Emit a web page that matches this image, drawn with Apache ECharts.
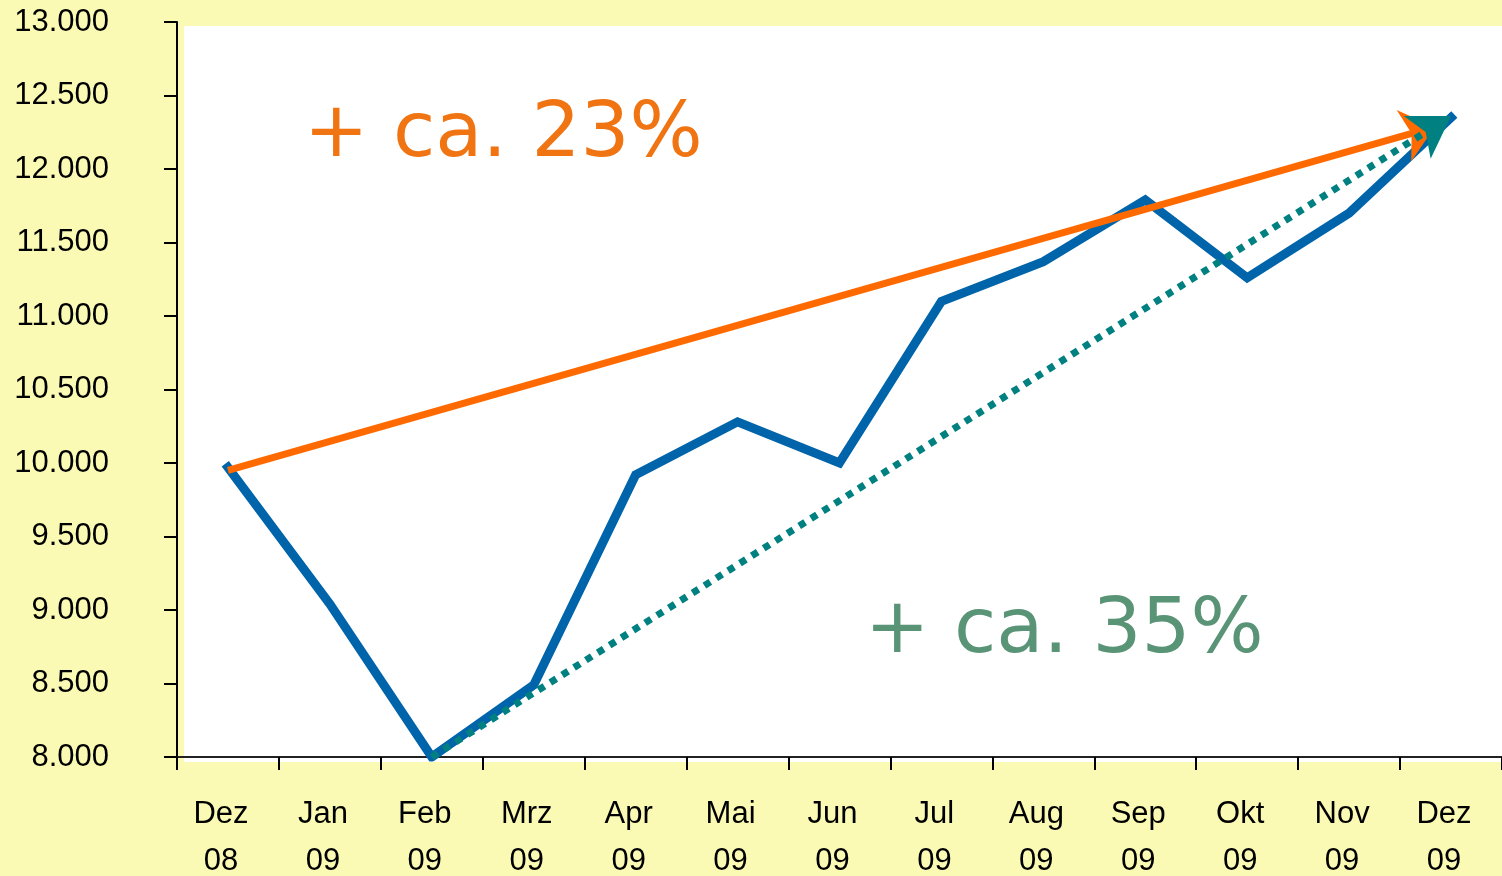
<!DOCTYPE html>
<html>
<head>
<meta charset="utf-8">
<script src="https://cdn.jsdelivr.net/npm/echarts@6/dist/echarts.min.js"></script>
<style>
  html, body { margin: 0; padding: 0; background: #fafab4; }
  #chart { width: 1502px; height: 876px; }
</style>
</head>
<body>
<div id="chart"></div>
<script>
// Monatswerte Dez 08 - Dez 09
var months = ['Dez\n08', 'Jan\n09', 'Feb\n09', 'Mrz\n09', 'Apr\n09', 'Mai\n09', 'Jun\n09',
  'Jul\n09', 'Aug\n09', 'Sep\n09', 'Okt\n09', 'Nov\n09', 'Dez\n09']
var values = [9970, 9040, 8000, 8490, 9920, 10280, 10000, 11100, 11370, 11790, 11260, 11700, 12350]
// trend arrows [categoryIndex, value]
var trendOrange = [[0, 9950], [11.84, 12286]]
var trendGreen = [[2, 8000], [12, 12360]]
var labelOrange = '+ ca. 23%'
var labelGreen = '+ ca. 35%'

function deNumber(v) {
  return String(v).replace(/\B(?=(\d{3})+(?!\d))/g, '.')
}

var chart = echarts.init(document.getElementById('chart'))
chart.setOption({
  backgroundColor: '#fafab4',
  animation: false,
  grid: { left: 177, right: 0, top: 22, bottom: 119, outerBoundsMode: 'none' },
  graphic: [
    { type: 'rect', z: -10, shape: { x: 184, y: 26, width: 1318, height: 736 }, style: { fill: '#ffffff' } },
    { type: 'text', z: 100, style: { text: labelOrange, x: 304, y: 136, font: '77px "DejaVu Sans"', fill: '#f07412', verticalAlign: 'middle' } },
    { type: 'text', z: 100, style: { text: labelGreen, x: 865, y: 632, font: '77px "DejaVu Sans"', fill: '#5a9477', verticalAlign: 'middle' } }
  ],
  xAxis: [
    {
      type: 'category',
      data: months,
      boundaryGap: true,
      axisLine: { onZero: false, lineStyle: { color: '#222', width: 2 } },
      axisTick: { show: true, interval: 0, length: 13, lineStyle: { color: '#000', width: 2 } },
      axisLabel: {
        interval: 0, margin: 34, color: '#000', fontSize: 31, lineHeight: 47,
        fontFamily: 'Liberation Sans', padding: [0, 14, 0, 0]
      },
      splitLine: { show: false }
    },
    { type: 'value', min: -0.5, max: 12.5, show: false }
  ],
  yAxis: {
    type: 'value',
    min: 8000,
    max: 13000,
    interval: 500,
    axisLine: { show: true, onZero: false, lineStyle: { color: '#000', width: 2 } },
    axisTick: { show: true, length: 13, lineStyle: { color: '#000', width: 2 } },
    axisLabel: {
      margin: 68, color: '#000', fontSize: 31, fontFamily: 'Liberation Sans',
      formatter: deNumber
    },
    splitLine: { show: false }
  },
  series: [
    {
      type: 'line',
      data: values,
      symbol: 'none',
      z: 3,
      lineStyle: { color: '#0064aa', width: 9, join: 'miter', cap: 'square' }
    },
    {
      type: 'line',
      xAxisIndex: 1,
      data: [],
      z: 4,
      markLine: {
        silent: true,
        animation: false,
        label: { show: false },
        symbol: ['none', 'arrow'],
        data: [
          [
            { coord: trendOrange[0], symbol: 'none', lineStyle: { color: '#ff6a00', width: 7, type: 'solid' } },
            { coord: trendOrange[1], symbol: 'arrow', symbolSize: [40, 32], itemStyle: { color: '#ff6a00' } }
          ],
          [
            { coord: trendGreen[0], symbol: 'none', lineStyle: { color: '#008080', width: 7, type: [7, 7] } },
            { coord: trendGreen[1], symbol: 'arrow', symbolSize: [38, 40], itemStyle: { color: '#008080' } }
          ]
        ]
      }
    }
  ]
})
</script>
</body>
</html>
